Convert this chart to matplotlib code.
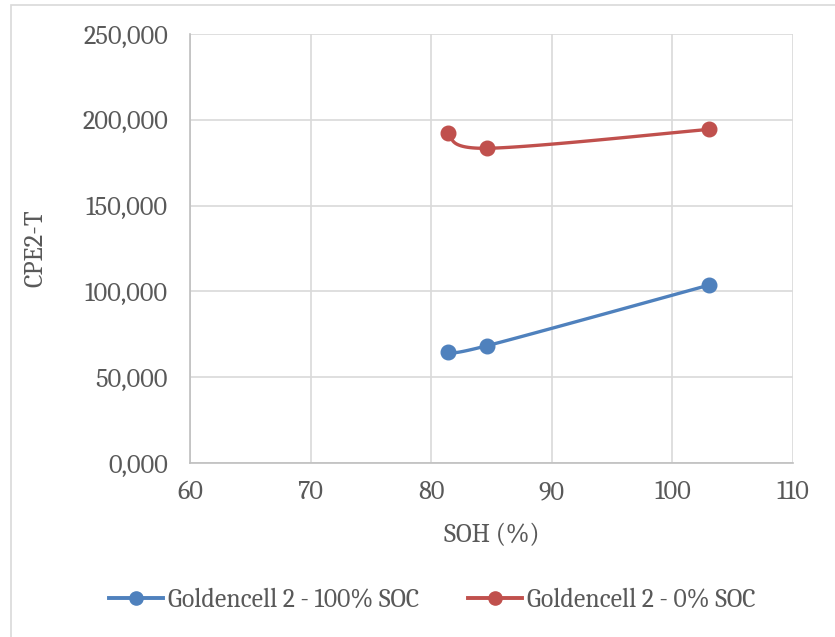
import numpy as np
import matplotlib.pyplot as plt
from matplotlib import font_manager as fm
from matplotlib.patches import Rectangle
from matplotlib.ticker import FuncFormatter

# data
soh = [81.4, 84.6, 103.0]
cpe_100 = [64.6, 68.3, 103.6]
cpe_0 = [192.5, 183.4, 194.4]
labels = ['Goldencell 2 - 100% SOC', 'Goldencell 2 - 0% SOC']
colors = ['#4F81BD', '#C0504D']

installed = {f.name for f in fm.fontManager.ttflist}
serif = 'Caladea' if 'Caladea' in installed else 'Liberation Serif'
fs = 19 if serif == 'Caladea' else 18


def smooth(x, y, n=40):
    # Excel-like smoothed line: Catmull-Rom style cubic Bezier segments
    p = np.column_stack([x, y]).astype(float)
    pts = np.vstack([p[0], p, p[-1]])
    out = []
    t = np.linspace(0, 1, n)[:, None]
    for i in range(1, len(pts) - 2):
        p0, p1, p2, p3 = pts[i - 1], pts[i], pts[i + 1], pts[i + 2]
        c1 = p1 + (p2 - p0) / 6
        c2 = p2 - (p3 - p1) / 6
        seg = ((1 - t) ** 3) * p1 + 3 * ((1 - t) ** 2) * t * c1 + 3 * (1 - t) * t ** 2 * c2 + t ** 3 * p2
        out.append(seg)
    s = np.vstack(out)
    return s[:, 0], s[:, 1]


fig = plt.figure(figsize=(8.35, 6.37), dpi=100)
ax = fig.add_axes([190 / 835, 1 - 463 / 637, 603 / 835, 429 / 637])

# outer chart border
fig.patches.append(Rectangle((11 / 835, -0.05), 1.2, (637 - 5) / 637 + 0.05,
                             transform=fig.transFigure, fill=False,
                             edgecolor='#D9D9D9', linewidth=1.2))

for ys, lab, c in zip([cpe_100, cpe_0], labels, colors):
    sx, sy = smooth(soh, ys)
    ax.plot(sx, sy, color=c, linewidth=2.4, zorder=3)
    ax.plot(soh, ys, 'o', color=c, markersize=10.5, zorder=4)
    ax.plot([], [], '-o', color=c, linewidth=2.8, markersize=9.5, label=lab)

ax.set_xlim(60, 110)
ax.set_ylim(0, 250)
ax.set_xticks(np.arange(60, 111, 10))
ax.set_yticks(np.arange(0, 251, 50))
ax.yaxis.set_major_formatter(FuncFormatter(lambda v, p: f'{v:.3f}'.replace('.', ',')))
ax.grid(True, color='#D9D9D9', linewidth=1.2)
ax.set_axisbelow(True)
for side in ['top', 'right']:
    ax.spines[side].set_visible(False)
for side in ['left', 'bottom']:
    ax.spines[side].set_color('#BFBFBF')
    ax.spines[side].set_linewidth(1.2)
ax.tick_params(length=0, colors='#595959', labelsize=fs)
ax.tick_params(axis='y', pad=16)
ax.tick_params(axis='x', pad=12)
for t in ax.get_xticklabels() + ax.get_yticklabels():
    t.set_fontfamily(serif)

ax.set_xlabel('SOH (%)', fontsize=fs, family=serif, color='#595959', labelpad=13)
ax.set_ylabel('CPE2-T', fontsize=fs, family=serif, color='#595959', labelpad=24)

fig.legend(loc='center', bbox_to_anchor=(432 / 835, 1 - 600 / 637), ncol=2, frameon=False,
           prop={'family': serif, 'size': 18.5},
           labelcolor='#595959', handlelength=2.1, handletextpad=0.2, columnspacing=1.9)

fig.savefig('out.png', dpi=100)
